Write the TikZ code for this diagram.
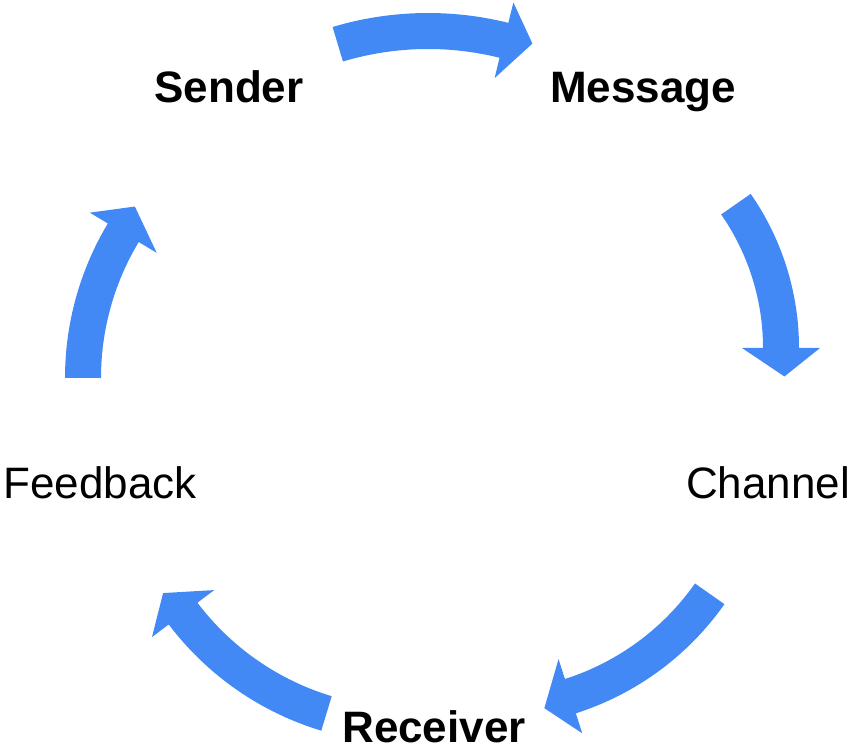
\documentclass[tikz,border=0pt]{standalone}
\usepackage{fontspec}
\setmainfont{Liberation Sans}
\definecolor{arrowblue}{RGB}{67,137,245}

\begin{document}
\begin{tikzpicture}[x=1pt,y=1pt,
    lbl/.style={anchor=base,font=\fontsize{44}{52}\selectfont},
    blbl/.style={lbl,font=\fontsize{44}{52}\selectfont\bfseries},
    blk/.style={fill=arrowblue}]
    \useasboundingbox (0,0) rectangle (854,746);
    \node[blbl] (sender)   at (229,643) {Sender};
    \node[blbl] (message)  at (643,643) {Message};
    \node[lbl]  (channel)  at (768,247) {Channel};
    \node[lbl]  (feedback) at (100,247) {Feedback};
    \node[blbl] (receiver) at (434,3)   {Receiver};
    % curved block arrows: centre x/centre y/radius/tail angle/head angle
    \foreach \cx/\cy/\r/\a/\b in {428/401/314/106.7/76,
                                  529/398/252/34.8/0,
                                  488/308/271/-35.1/-72.3,
                                  408/302.5/282/-106.8/-142.9,
                                  365/368/282/180/149}{
        \pgfmathsetmacro\t{\b-1604/\r}
        \begin{scope}[shift={(\cx,\cy)}]
            \fill[blk] (\a:{\r+18}) arc[start angle=\a,end angle=\b,radius=\r+18]
                -- (\b:{\r+39}) -- (\t:{\r+5}) -- (\b:{\r-39}) -- (\b:{\r-18})
                arc[start angle=\b,end angle=\a,radius=\r-18] -- cycle;
        \end{scope}
    }
\end{tikzpicture}
\end{document}
